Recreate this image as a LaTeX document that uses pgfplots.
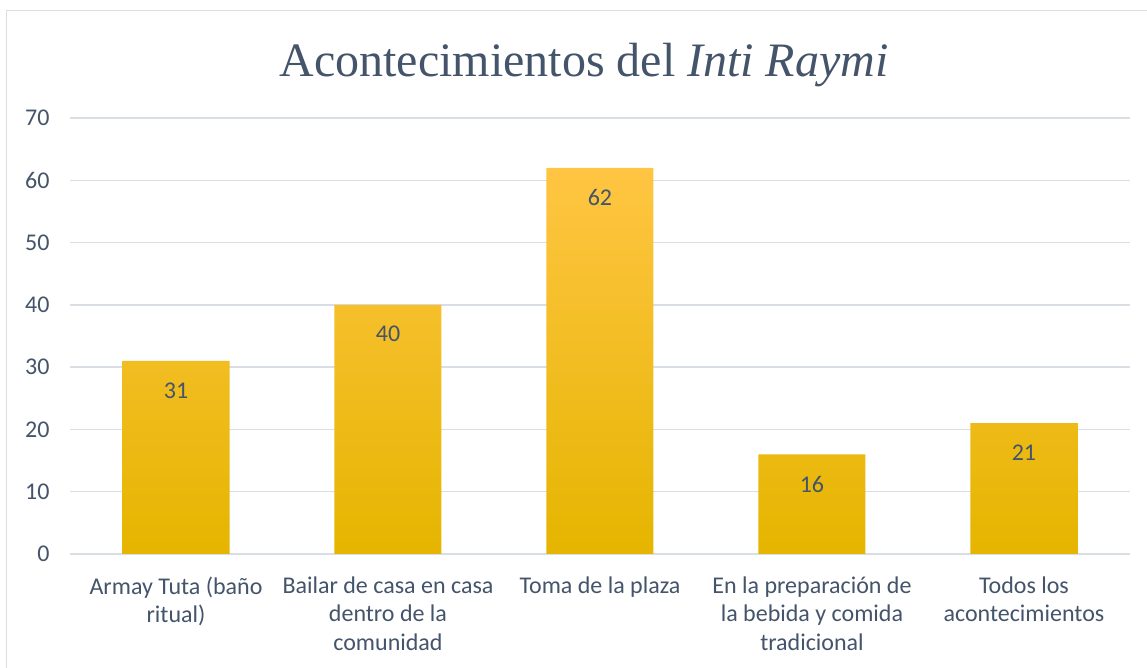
\documentclass[border=0pt]{standalone}
\usepackage{pgfplots}
\pgfplotsset{compat=1.18}
\usepackage{fontspec}
\setmainfont{Carlito}
\newfontfamily\titlefont{Liberation Serif}
\definecolor{txt}{HTML}{44546A}
\definecolor{gridc}{HTML}{D9DDE4}
\definecolor{bartop}{HTML}{FFC543}
\definecolor{barmid}{HTML}{FFC400}
\definecolor{barbot}{HTML}{E5B500}
\begin{document}
\begin{tikzpicture}
\useasboundingbox (0pt,0pt) rectangle (1147pt,668pt);
\fill[white] (0pt,0pt) rectangle (1147pt,668pt);
\draw[gridc, line width=1.5pt] (6.5pt,0pt) -- (6.5pt,657.5pt) -- (1147pt,657.5pt);
\node[txt, font=\titlefont\fontsize{48}{56}\selectfont, anchor=base] at (584pt,591pt) {Acontecimientos del \textit{Inti Raymi}};
\begin{axis}[
  at={(176pt,114pt)}, anchor=origin,
  scale only axis, width=1060pt, height=436pt,
  xmin=-0.5, xmax=4.5, ymin=0, ymax=70,
  ytick={0,10,...,70},
  xtick={0,1,2,3,4},
  xticklabels={{Armay Tuta (baño\\ritual)},{Bailar de casa en casa\\dentro de la\\comunidad},{Toma de la plaza},{En la preparación de\\la bebida y comida\\tradicional},{Todos los\\acontecimientos}},
  xticklabel style={align=center, text=txt, font=\fontsize{24}{28.5}\selectfont, anchor=north, yshift=-19pt},
  yticklabel style={text=txt, font=\fontsize{24}{28}\selectfont, xshift=-17pt},
  /pgf/number format/assume math mode=true,
  axis line style={draw=none},
  major tick length=0pt,
  ymajorgrids, grid style={gridc, line width=1.5pt},
  ybar, bar width=107pt,
  nodes near coords,
  every node near coord/.append style={text=txt, font=\fontsize{24}{28}\selectfont, anchor=north, yshift=-18pt},
  clip=false,
]
\addplot[draw=none, top color=bartop, middle color=barmid, bottom color=barbot] coordinates {(0,31) (1,40) (2,62) (3,16) (4,21)};
\end{axis}
\end{tikzpicture}
\end{document}
